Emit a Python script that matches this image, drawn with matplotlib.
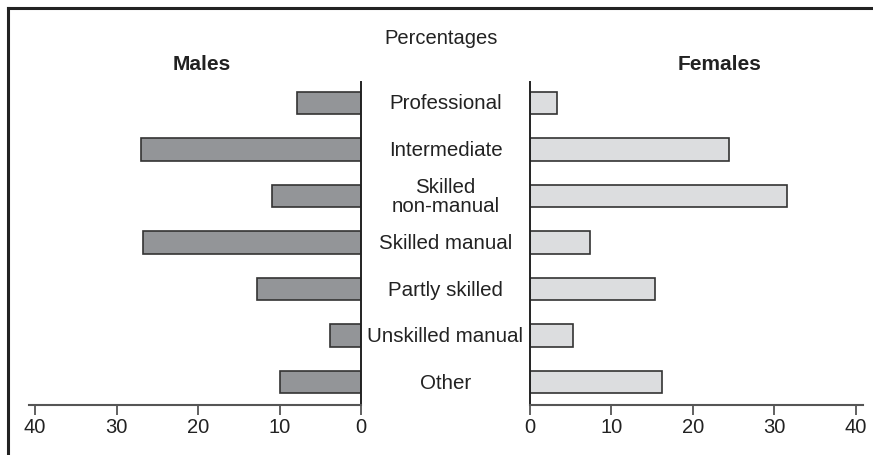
import matplotlib
matplotlib.use("Agg")
import matplotlib.pyplot as plt
from matplotlib.lines import Line2D

plt.rcParams["font.family"] = ["Liberation Sans", "DejaVu Sans"]

# Occupational class by sex, percentages
categories = ["Professional", "Intermediate", "Skilled\nnon-manual", "Skilled manual",
              "Partly skilled", "Unskilled manual", "Other"]
males = [7.9, 27.0, 10.9, 26.8, 12.8, 3.8, 9.9]
females = [3.3, 24.4, 31.5, 7.4, 15.3, 5.3, 16.2]
ticks = [0, 10, 20, 30, 40]

W, H = 873, 456
fig = plt.figure(figsize=(W / 100, H / 100), dpi=100)

ax_top, ax_bot = 83, 406
ax_l = fig.add_axes([28.5 / W, 1 - ax_bot / H, (361 - 28.5) / W, (ax_bot - ax_top) / H])
ax_r = fig.add_axes([530 / W, 1 - ax_bot / H, (862.5 - 530) / W, (ax_bot - ax_top) / H])

ypos = list(range(len(categories)))
ax_l.barh(ypos, males, height=0.48, color="#939598", edgecolor="#333333", linewidth=1.2)
ax_r.barh(ypos, females, height=0.48, color="#dcdddf", edgecolor="#333333", linewidth=1.2)

for ax in (ax_l, ax_r):
    ax.set_xlim(0, 40.8)
    ax.set_ylim(6.49, -0.45)
    ax.set_yticks([])
    ax.set_xticks(ticks)
    ax.set_xticklabels([str(t) for t in ticks], fontsize=14.5, color="#222222")
    ax.tick_params(axis="x", direction="out", length=7, width=1.3, color="#555555", pad=2)
    ax.spines["top"].set_visible(False)
    ax.spines["bottom"].set_color("#555555")
    ax.spines["bottom"].set_linewidth(1.5)
    ax.patch.set_visible(False)

ax_l.invert_xaxis()
ax_l.spines["left"].set_visible(False)
ax_l.spines["right"].set_color("#222222")
ax_l.spines["right"].set_linewidth(1.4)
ax_r.spines["right"].set_visible(False)
ax_r.spines["left"].set_color("#222222")
ax_r.spines["left"].set_linewidth(1.4)

# category labels in the gap between the two panels
for i, cat in enumerate(categories):
    yc = 103.8 + 46.6 * i
    fig.text(445.5 / W, 1 - yc / H, cat, ha="center", va="center", fontsize=14.8,
             color="#222222", linespacing=0.95)

fig.text(441 / W, 1 - 38 / H, "Percentages", ha="center", va="center", fontsize=14.5,
         color="#222222")
fig.text(202 / W, 1 - 65 / H, "Males", ha="center", va="center", fontsize=15,
         fontweight="bold", color="#222222")
fig.text(720 / W, 1 - 65 / H, "Females", ha="center", va="center", fontsize=15,
         fontweight="bold", color="#222222")

# frame: top and left edges only (crop of a boxed figure)
fig.add_artist(Line2D([8 / W, 1], [1 - 8.5 / H, 1 - 8.5 / H], transform=fig.transFigure,
                      color="#222222", linewidth=2.2))
fig.add_artist(Line2D([8 / W, 8 / W], [0, 1 - 8.5 / H], transform=fig.transFigure,
                      color="#222222", linewidth=2.2))

fig.savefig("out.png", dpi=100)
